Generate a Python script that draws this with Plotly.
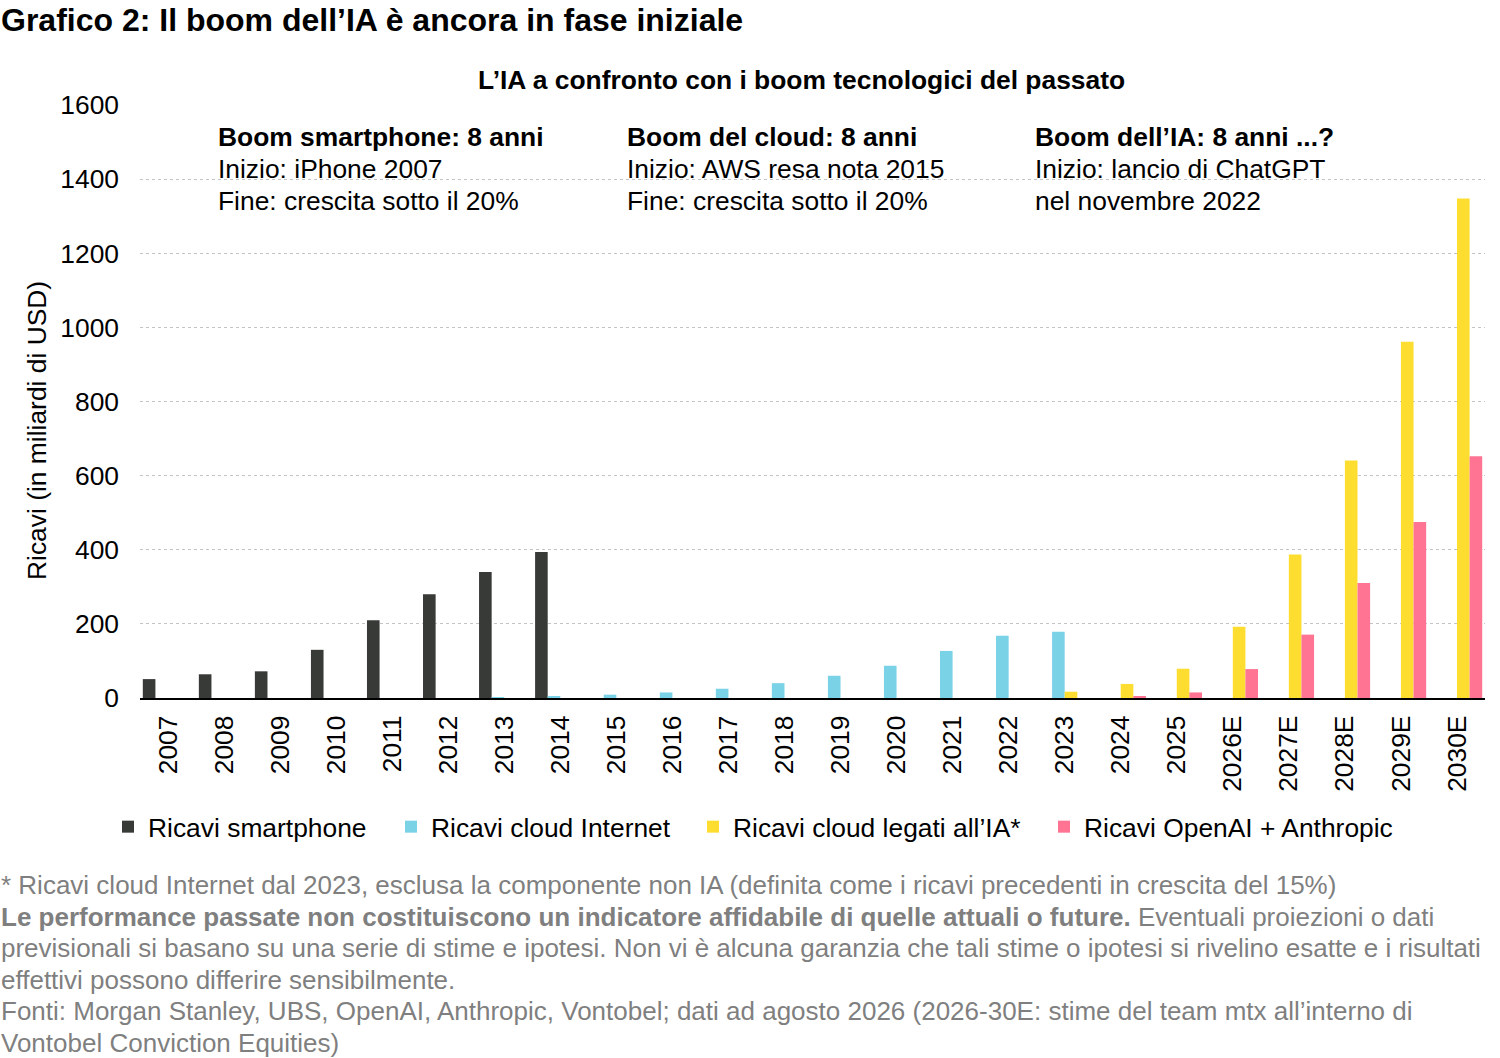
import plotly.graph_objects as go

# Data (miliardi di USD)
categories = ["2007", "2008", "2009", "2010", "2011", "2012", "2013", "2014",
              "2015", "2016", "2017", "2018", "2019", "2020", "2021", "2022",
              "2023", "2024", "2025", "2026E", "2027E", "2028E", "2029E", "2030E"]
smartphone = [51, 64, 72, 130, 210, 280, 340, 394] + [None] * 16
cloud_internet = [None] * 6 + [1, 3, 9, 15, 25, 40, 60, 87, 127, 168, 179] + [None] * 7
ai_cloud = [None] * 16 + [17, 38, 79, 192, 387, 641, 961, 1348]
openai_anthropic = [None] * 17 + [3, 15, 78, 171, 310, 475, 652]

series_names = ["Ricavi smartphone", "Ricavi cloud Internet",
                "Ricavi cloud legati all\u2019IA*", "Ricavi OpenAI + Anthropic"]
series_values = [smartphone, cloud_internet, ai_cloud, openai_anthropic]
series_colors = ["#383a37", "#7ad2e6", "#fedd31", "#fe7492"]

title = "Grafico 2: Il boom dell\u2019IA è ancora in fase iniziale"
subtitle = "L\u2019IA a confronto con i boom tecnologici del passato"
y_title = "Ricavi (in miliardi di USD)"

boom_blocks = [
    ["Boom smartphone: 8 anni", "Inizio: iPhone 2007", "Fine: crescita sotto il 20%"],
    ["Boom del cloud: 8 anni", "Inizio: AWS resa nota 2015", "Fine: crescita sotto il 20%"],
    ["Boom dell\u2019IA: 8 anni ...?", "Inizio: lancio di ChatGPT", "nel novembre 2022"],
]

footnote_lines = [
    "* Ricavi cloud Internet dal 2023, esclusa la componente non IA (definita come i ricavi precedenti in crescita del 15%)",
    "<b>Le performance passate non costituiscono un indicatore affidabile di quelle attuali o future.</b> Eventuali proiezioni o dati",
    "previsionali si basano su una serie di stime e ipotesi. Non vi è alcuna garanzia che tali stime o ipotesi si rivelino esatte e i risultati",
    "effettivi possono differire sensibilmente.",
    "Fonti: Morgan Stanley, UBS, OpenAI, Anthropic, Vontobel; dati ad agosto 2026 (2026-30E: stime del team mtx all\u2019interno di",
    "Vontobel Conviction Equities)",
]

FONT = "Liberation Sans, Arial, sans-serif"
TXT = 26.4
W, H = 1500, 1058
ML, MR, MT, MB = 140, 15, 105, 360
plot_h = H - MT - MB
plot_w = W - ML - MR


def py(pixel_y):
    # pixel row -> paper y
    return (H - MB - pixel_y) / plot_h


def px(pixel_x):
    # pixel column -> paper x
    return (pixel_x - ML) / plot_w


# one legend per series so the entries can sit where the reference has them
legend_ids = ["legend", "legend2", "legend3", "legend4"]
legend_left = [108, 391, 693, 1044]

fig = go.Figure()
for name, vals, color, lid in zip(series_names, series_values, series_colors, legend_ids):
    fig.add_trace(go.Bar(
        x=categories,
        y=vals,
        name=name,
        legend=lid,
        marker=dict(color=color, line=dict(width=0)),
    ))

annotations = []
# title and subtitle
annotations.append(dict(text=f"<b>{title}</b>", xref="paper", yref="paper",
                        x=px(-1), y=py(20), xanchor="left", yanchor="middle",
                        showarrow=False, font=dict(size=32, color="black")))
annotations.append(dict(text=f"<b>{subtitle}</b>", xref="paper", yref="paper",
                        x=px(801), y=py(80), xanchor="center", yanchor="middle",
                        showarrow=False, font=dict(size=TXT, color="black")))

# boom text blocks
block_left = [216, 625, 1033]
for left, lines in zip(block_left, boom_blocks):
    for i, line in enumerate(lines):
        txt = f"<b>{line}</b>" if i == 0 else line
        annotations.append(dict(text=txt, xref="paper", yref="paper",
                                x=px(left), y=py(137 + i * 31.8),
                                xanchor="left", yanchor="middle", showarrow=False,
                                font=dict(size=TXT, color="black")))

# y axis title
annotations.append(dict(text=y_title, xref="paper", yref="paper",
                        x=px(37), y=py(431), xanchor="center", yanchor="middle",
                        textangle=-90, showarrow=False,
                        font=dict(size=TXT, color="black")))

# footnotes
for i, line in enumerate(footnote_lines):
    annotations.append(dict(text=line, xref="paper", yref="paper",
                            x=px(-1), y=py(885 + i * 31.6),
                            xanchor="left", yanchor="middle", showarrow=False,
                            font=dict(size=26, color="#7f7f7f")))

legends = {}
for lid, left in zip(legend_ids, legend_left):
    legends[lid] = dict(
        orientation="h",
        x=px(left), y=py(827),
        xanchor="left", yanchor="middle",
        font=dict(size=TXT, color="black"),
        itemwidth=30,
        bgcolor="rgba(0,0,0,0)",
    )

fig.update_layout(
    width=W,
    height=H,
    margin=dict(l=ML, r=MR, t=MT, b=MB, pad=0),
    paper_bgcolor="white",
    plot_bgcolor="white",
    font=dict(family=FONT, size=TXT, color="black"),
    barmode="group",
    bargap=0.1,
    bargroupgap=0,
    showlegend=True,
    annotations=annotations,
    **legends,
)

fig.update_xaxes(
    type="category",
    tickangle=-90,
    tickfont=dict(size=TXT, color="black"),
    showgrid=False,
    showline=True,
    linecolor="black",
    linewidth=2,
    ticks="",
    ticklabelstandoff=5,
)
fig.update_yaxes(
    range=[0, 1600],
    dtick=200,
    tickfont=dict(size=TXT, color="black"),
    showgrid=True,
    gridcolor="#c4c4c4",
    gridwidth=1,
    griddash="dot",
    zeroline=False,
    showline=False,
    ticks="",
    ticklabelstandoff=20,
)

# drop the default body margin so the figure sits at the window's top-left
fig.write_html("out.html", config={"displayModeBar": False},
               post_script="document.body.style.margin = '0';")
